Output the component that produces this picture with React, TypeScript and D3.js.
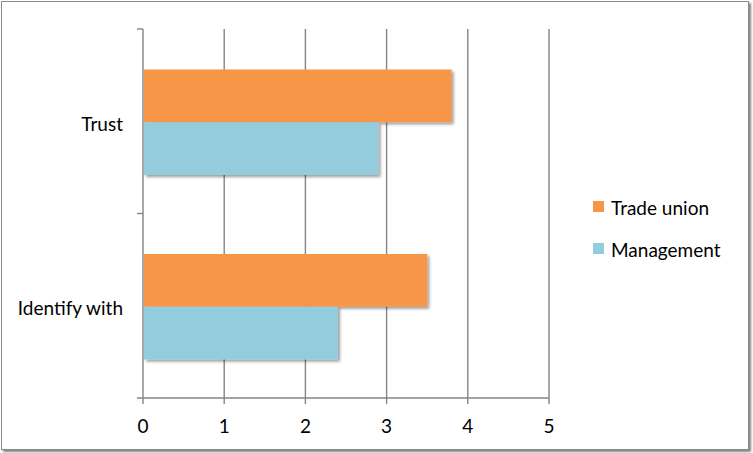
import React from "react";
import * as d3 from "d3";

const categories = ["Trust", "Identify with"];
const seriesNames = ["Trade union", "Management"];
const tradeUnion = [3.8, 3.5];
const management = [2.9, 2.4];
const xTicks = [0, 1, 2, 3, 4, 5];
const colors = ["#F79646", "#93CDDD"];

export default function App() {
  const W = 753, H = 453;
  const left = 143, right = 549, top = 29, bottom = 398;
  const x = d3.scaleLinear().domain([0, 5]).range([left, right]);
  const y = d3.scaleBand().domain(categories).range([top, bottom]).padding(0);
  const inner = d3.scaleBand().domain(seriesNames).range([40.5, 146]).padding(0);
  const series = [tradeUnion, management];
  const font = "Lato, 'Open Sans', sans-serif";
  const grid = "#858585";

  return (
    <svg width={W} height={H} style={{ position: "absolute", left: 0, top: 0 }} fontFamily={font}>
      <defs>
        <filter id="sh" x="-10%" y="-10%" width="130%" height="140%">
          <feGaussianBlur in="SourceAlpha" stdDeviation="1.5" />
          <feOffset dx="1.5" dy="2" result="b" />
          <feComponentTransfer><feFuncA type="linear" slope="0.4" /></feComponentTransfer>
          <feMerge><feMergeNode /><feMergeNode in="SourceGraphic" /></feMerge>
        </filter>
        <filter id="bsh" x="-5%" y="-5%" width="110%" height="110%">
          <feGaussianBlur in="SourceAlpha" stdDeviation="1" />
          <feOffset dx="1.5" dy="1.5" />
          <feComponentTransfer><feFuncA type="linear" slope="0.5" /></feComponentTransfer>
          <feMerge><feMergeNode /><feMergeNode in="SourceGraphic" /></feMerge>
        </filter>
      </defs>
      <rect x={1.5} y={1.5} width={747} height={448} fill="#fff" stroke="#8a8a8a" strokeWidth={1} filter="url(#bsh)" />
      {xTicks.slice(1).map((t) => (
        <line key={t} x1={x(t)} x2={x(t)} y1={top} y2={bottom + 6} stroke={grid} strokeWidth={1.4} />
      ))}
      {categories.map((c, ci) =>
        series.map((s, si) => (
          <rect
            key={c + si}
            x={x(0) + 1}
            y={(y(c) as number) + (inner(seriesNames[si]) as number)}
            width={x(s[ci]) - x(0) - 1}
            height={inner.bandwidth()}
            fill={colors[si]}
            filter="url(#sh)"
          />
        ))
      )}
      <line x1={left} x2={left} y1={top} y2={bottom} stroke={grid} strokeWidth={1.4} />
      <line x1={left - 6} x2={right} y1={bottom} y2={bottom} stroke={grid} strokeWidth={1.4} />
      <line x1={left} x2={left} y1={bottom} y2={bottom + 6} stroke={grid} strokeWidth={1.4} />
      {[top, (top + bottom) / 2].map((v, i) => (
        <line key={i} x1={left - 6} x2={left} y1={v} y2={v} stroke={grid} strokeWidth={1.4} />
      ))}
      {xTicks.map((t) => (
        <text key={t} x={x(t)} y={433} textAnchor="middle" fontSize={19} fill="#000">{t}</text>
      ))}
      {categories.map((c) => (
        <text key={c} x={123} y={(y(c) as number) + y.bandwidth() / 2 + 2} textAnchor="end" dominantBaseline="central" fontSize={19} fill="#000">{c}</text>
      ))}
      {seriesNames.map((n, i) => (
        <g key={n} transform={`translate(593, ${201 + i * 42})`}>
          <rect width={11} height={11} fill={colors[i]} />
          <text x={18} y={13.5} fontSize={19} fill="#000">{n}</text>
        </g>
      ))}
    </svg>
  );
}
